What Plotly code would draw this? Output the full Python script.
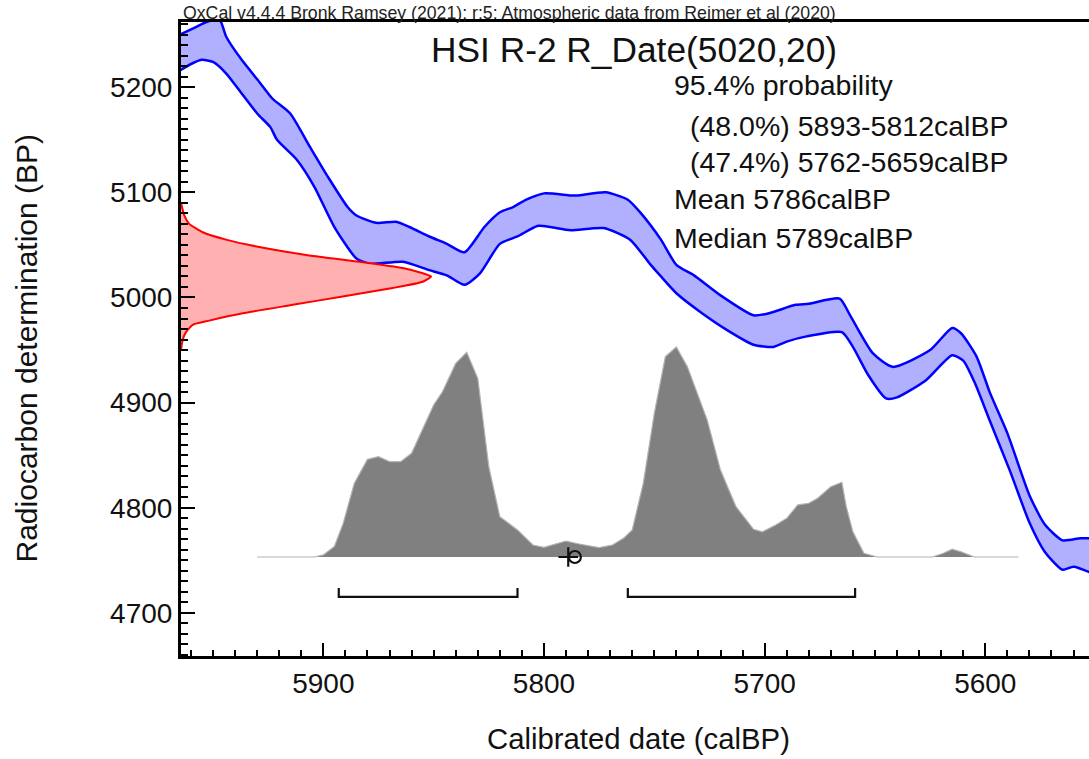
import plotly.graph_objects as go

# ---- data ----
# IntCal20 calibration band (calBP, radiocarbon BP)
cal_upper_x = [5965, 5958, 5953, 5947, 5944, 5937, 5929, 5923, 5915, 5906,
               5898, 5889, 5885, 5876, 5867, 5861, 5852, 5844, 5836, 5827,
               5820, 5814, 5808, 5800, 5788, 5785, 5772, 5762, 5756, 5747,
               5740, 5732, 5720, 5705, 5698, 5686, 5680, 5666, 5661, 5651,
               5642, 5625, 5615, 5611, 5604, 5598, 5590, 5580, 5573, 5565,
               5557, 5552]
cal_upper_y = [5250, 5257, 5262, 5264, 5248, 5226, 5205, 5189, 5175, 5143,
               5115, 5086, 5078, 5071, 5072, 5067, 5058, 5051, 5043, 5067,
               5081, 5086, 5093, 5099, 5097, 5097, 5100, 5093, 5080, 5055,
               5031, 5021, 5002, 4983, 4985, 4993, 4994, 4999, 4982, 4947,
               4934, 4950, 4971, 4966, 4944, 4910, 4871, 4812, 4784, 4769,
               4771, 4771]
cal_lower_x = [5965, 5959, 5955, 5950, 5944, 5937, 5930, 5924, 5921, 5912,
               5904, 5895, 5885, 5879, 5864, 5852, 5844, 5836, 5829, 5820,
               5812, 5803, 5797, 5788, 5773, 5761, 5752, 5747, 5740, 5729,
               5717, 5705, 5696, 5690, 5681, 5665, 5660, 5653, 5645, 5640,
               5627, 5615, 5610, 5605, 5598, 5589, 5580, 5573, 5565, 5560,
               5552]
cal_lower_y = [5216, 5223, 5226, 5224, 5213, 5194, 5175, 5162, 5150, 5131,
               5105, 5067, 5037, 5032, 5034, 5026, 5021, 5012, 5023, 5051,
               5058, 5068, 5067, 5064, 5066, 5055, 5032, 5020, 5004, 4986,
               4969, 4955, 4953, 4958, 4963, 4967, 4953, 4926, 4904, 4905,
               4921, 4945, 4940, 4920, 4883, 4836, 4786, 4758, 4741, 4744,
               4738]

# Radiocarbon measurement likelihood (BP, relative probability)
rdate_bp = [5090, 5078, 5070, 5062, 5055, 5048, 5040, 5034, 5028, 5023, 5020,
            5015, 5009, 5001, 4993, 4985, 4978, 4974, 4967, 4960, 4950]
rdate_prob = [0.0, 0.013, 0.033, 0.087, 0.18, 0.313, 0.513, 0.713, 0.887,
              0.967, 1.0, 0.967, 0.847, 0.647, 0.447, 0.247, 0.113, 0.047,
              0.02, 0.007, 0.0]

# Calibrated distribution (calBP, relative probability)
post_x = [5930, 5904, 5900, 5895, 5891, 5886, 5880, 5875, 5870, 5865,
          5860, 5855, 5850, 5846, 5840, 5835, 5830, 5825, 5820, 5812,
          5805, 5800, 5796, 5790, 5784, 5775, 5769, 5764, 5760, 5755,
          5750, 5745, 5740, 5735, 5726, 5720, 5713, 5705, 5701, 5695,
          5690, 5685, 5680, 5676, 5670, 5665, 5663, 5660, 5655, 5649,
          5624, 5619, 5615, 5611, 5605, 5585]
post_p = [0, 0, 0.01, 0.05, 0.16, 0.35, 0.465, 0.478, 0.454, 0.454,
          0.494, 0.605, 0.724, 0.787, 0.922, 0.975, 0.851, 0.43, 0.192, 0.129,
          0.057, 0.046, 0.057, 0.076, 0.062, 0.045, 0.057, 0.089, 0.129, 0.351,
          0.684, 0.954, 1.0, 0.906, 0.652, 0.414, 0.24, 0.132, 0.12, 0.152,
          0.184, 0.248, 0.256, 0.28, 0.335, 0.356, 0.24, 0.12, 0.018, 0,
          0, 0.018, 0.037, 0.025, 0, 0]

# 95.4% ranges (start, end) calBP
range_starts = [5893, 5762]
range_ends = [5812, 5659]
mean_cal = 5786
median_cal = 5789

title_text = "HSI R-2 R_Date(5020,20)"
header_text = "OxCal v4.4.4 Bronk Ramsey (2021); r:5: Atmospheric data from Reimer et al (2020)"
info_lines = ["95.4% probability",
              "(48.0%) 5893-5812calBP",
              "(47.4%) 5762-5659calBP",
              "Mean 5786calBP",
              "Median 5789calBP"]

# ---- figure ----
W, H = 1089, 759
L, R, T, B = 181, 0, 22, 103
PW, PH = W - L - R, H - T - B
FONT = "Liberation Sans, Arial, sans-serif"

def pxx(px):
    return (px - L) / PW

def pxy(py):
    return (H - B - py) / PH

fig = go.Figure()

# calibration band: upper edge, then lower edge filled to it
fig.add_trace(go.Scatter(x=cal_upper_x, y=cal_upper_y, mode="lines",
                         line=dict(color="#0000ff", width=2.5, shape="spline",
                                   smoothing=0.6),
                         showlegend=False))
fig.add_trace(go.Scatter(x=cal_lower_x, y=cal_lower_y, mode="lines",
                         fill="tonexty", fillcolor="#b0b0ff",
                         line=dict(color="#0000ff", width=2.5, shape="spline",
                                   smoothing=0.6),
                         showlegend=False))

# measurement likelihood on the y axis
fig.add_trace(go.Scatter(x=rdate_prob, y=rdate_bp, xaxis="x2", yaxis="y",
                         mode="lines", fill="tozerox", fillcolor="#ffb0b0",
                         line=dict(color="#ff0000", width=2, shape="spline",
                                   smoothing=0.5),
                         showlegend=False))

# calibrated distribution
fig.add_trace(go.Scatter(x=post_x, y=post_p, xaxis="x", yaxis="y2",
                         mode="lines", fill="tozeroy", fillcolor="#808080",
                         line=dict(color="#b4b4b4", width=1.2),
                         showlegend=False))

# range brackets
for s, e in zip(range_starts, range_ends):
    fig.add_trace(go.Scatter(x=[s, s, e, e], y=[-0.148, -0.19, -0.19, -0.148],
                             xaxis="x", yaxis="y2", mode="lines",
                             line=dict(color="#111111", width=2.2),
                             showlegend=False))

# median (+) and mean (o)
fig.add_trace(go.Scatter(x=[median_cal], y=[0], xaxis="x", yaxis="y2",
                         mode="markers",
                         marker=dict(symbol="cross-thin-open", size=14,
                                     color="#111111",
                                     line=dict(color="#111111", width=2.2)),
                         showlegend=False))
fig.add_trace(go.Scatter(x=[mean_cal], y=[0], xaxis="x", yaxis="y2",
                         mode="markers",
                         marker=dict(symbol="circle-open", size=12,
                                     color="#111111",
                                     line=dict(color="#111111", width=2.2)),
                         showlegend=False))

axis_common = dict(showline=True, linewidth=3, linecolor="#000000",
                   ticks="inside", tickwidth=2.2, tickcolor="#000000",
                   showgrid=False, zeroline=False,
                   tickfont=dict(family=FONT, size=28, color="#111111"))

fig.update_layout(
    width=W, height=H,
    margin=dict(l=L, r=R, t=T, b=B, pad=0),
    paper_bgcolor="white", plot_bgcolor="white",
    showlegend=False,
    xaxis=dict(range=[5964.5, 5553], dtick=100, tick0=0, ticklen=13,
               mirror=True,
               minor=dict(ticks="inside", ticklen=6, tickwidth=1.5,
                          dtick=10, tickcolor="#000000"),
               **axis_common),
    yaxis=dict(range=[4659, 5262], dtick=100, tick0=0, ticklen=14,
               minor=dict(ticks="inside", ticklen=7, tickwidth=1.5,
                          dtick=10, tickcolor="#000000"),
               **axis_common),
    xaxis2=dict(overlaying="x", anchor="y", range=[0, PW / 250.0],
                visible=False),
    yaxis2=dict(overlaying="y", anchor="x",
                range=[-(H - B - 557) / 210.0, (557 - T) / 210.0],
                visible=False),
)

ann = []
ann.append(dict(x=pxx(181), y=pxy(12.5), xref="paper", yref="paper",
                text=header_text, showarrow=False, xanchor="left",
                yanchor="middle", font=dict(family=FONT, size=17.7, color="#222222")))
ann.append(dict(x=pxx(634), y=pxy(50), xref="paper", yref="paper",
                text=title_text, showarrow=False, xanchor="center",
                yanchor="middle", font=dict(family=FONT, size=35.3, color="#111111")))
info_pos = [(672, 84.5), (688, 125.8), (688, 162.5), (672, 199), (672, 237.5)]
for line, (lx, ly) in zip(info_lines, info_pos):
    ann.append(dict(x=pxx(lx), y=pxy(ly), xref="paper", yref="paper",
                    text=line, showarrow=False, xanchor="left",
                    yanchor="middle", font=dict(family=FONT, size=28.5, color="#111111")))
ann.append(dict(x=pxx(638), y=pxy(738), xref="paper", yref="paper",
                text="Calibrated date (calBP)", showarrow=False,
                xanchor="center", yanchor="middle",
                font=dict(family=FONT, size=29.3, color="#111111")))
ann.append(dict(x=pxx(26), y=pxy(348.5), xref="paper", yref="paper",
                text="Radiocarbon determination (BP)", showarrow=False,
                textangle=-90, xanchor="center", yanchor="middle",
                font=dict(family=FONT, size=30, color="#111111")))
fig.update_layout(annotations=ann)

fig.write_html("out.html")
